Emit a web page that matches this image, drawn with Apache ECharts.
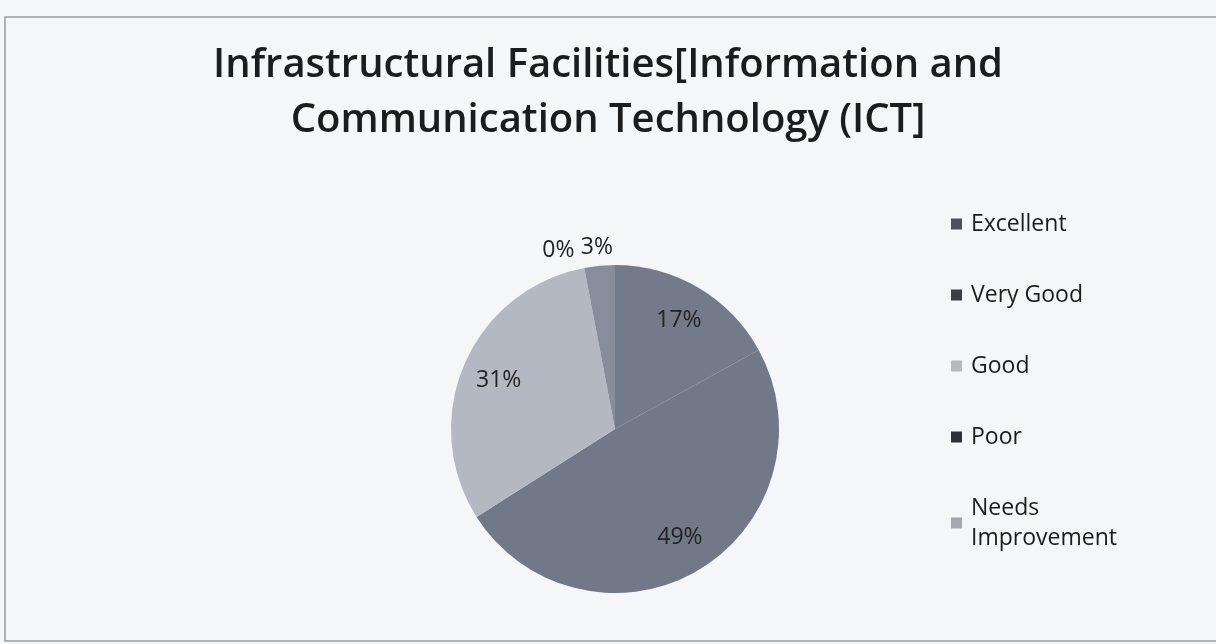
<!DOCTYPE html>
<html>
<head>
<meta charset="utf-8">
<script src="https://cdn.jsdelivr.net/npm/echarts@6/dist/echarts.min.js"></script>
<style>
  html, body { margin: 0; padding: 0; background: #f5f6f8; }
  #main { width: 1216px; height: 644px; }
</style>
</head>
<body>
<div id="main"></div>
<script>
// ratings and their shares (percent)
var categories = ['Excellent', 'Very Good', 'Good', 'Poor', 'Needs Improvement']
var shares = [17, 49, 31, 0, 3]
var sliceColors = ['#737a8a', '#717888', '#b4b8c3', '#3e4350', '#888d9b']
var legendColors = ['#4e5158', '#3a3d44', '#b8b9bd', '#2f3138', '#a6a8ad']
var outsideLabels = ['Poor', 'Needs Improvement']

var chart = echarts.init(document.getElementById('main'))
var font = '"Open Sans", Lato, sans-serif'

var pieData = categories.map(function (name, i) {
  return { name: name, value: shares[i], itemStyle: { color: sliceColors[i] } }
})
// transparent ring on top of the pie, only to place the labels at 3/4 radius
var labelData = categories.map(function (name, i) {
  var item = { name: name, value: shares[i], itemStyle: { color: 'rgba(0,0,0,0)' } }
  if (outsideLabels.indexOf(name) >= 0) {
    item.label = { position: 'outside' }
  }
  if (name === 'Needs Improvement') {
    item.label.offset = [20, 0]
  }
  return item
})

var option = {
  backgroundColor: '#f5f6f8',
  title: {
    text: 'Infrastructural Facilities[Information and\nCommunication Technology (ICT]',
    left: 'center',
    top: 33,
    textStyle: {
      fontFamily: font,
      fontSize: 40,
      fontWeight: 600,
      color: '#1c1c1c',
      lineHeight: 55
    }
  },
  legend: {
    orient: 'vertical',
    left: 946,
    top: 204,
    itemWidth: 11,
    itemHeight: 11,
    itemGap: 41,
    icon: 'rect',
    data: categories.map(function (name, i) {
      return { name: name, itemStyle: { color: legendColors[i] } }
    }),
    formatter: function (name) {
      return name === 'Needs Improvement' ? 'Needs\nImprovement' : name
    },
    textStyle: {
      fontFamily: font,
      fontSize: 23,
      color: '#1c1c1c',
      lineHeight: 30,
      padding: [0, 0, 0, 4]
    }
  },
  graphic: [
    {
      type: 'rect',
      shape: { x: 5, y: 17, width: 1240, height: 624 },
      style: { fill: 'none', stroke: '#9a9ca2', lineWidth: 1.5 },
      silent: true
    }
  ],
  series: [
    {
      type: 'pie',
      center: [615, 429],
      radius: 164,
      startAngle: 90,
      clockwise: true,
      silent: true,
      label: { show: false },
      labelLine: { show: false },
      data: pieData
    },
    {
      type: 'pie',
      center: [615, 429],
      radius: [82, 164],
      startAngle: 90,
      clockwise: true,
      silent: true,
      minAngle: 1,
      minShowLabelAngle: 0,
      avoidLabelOverlap: false,
      legendHoverLink: false,
      label: {
        show: true,
        position: 'inside',
        formatter: '{c}%',
        fontFamily: font,
        fontSize: 23,
        color: '#222'
      },
      labelLine: { show: false, length: 18, length2: 0 },
      data: labelData
    }
  ]
}

chart.setOption(option)
window.addEventListener('resize', function () {
  chart.resize()
})
</script>
</body>
</html>
